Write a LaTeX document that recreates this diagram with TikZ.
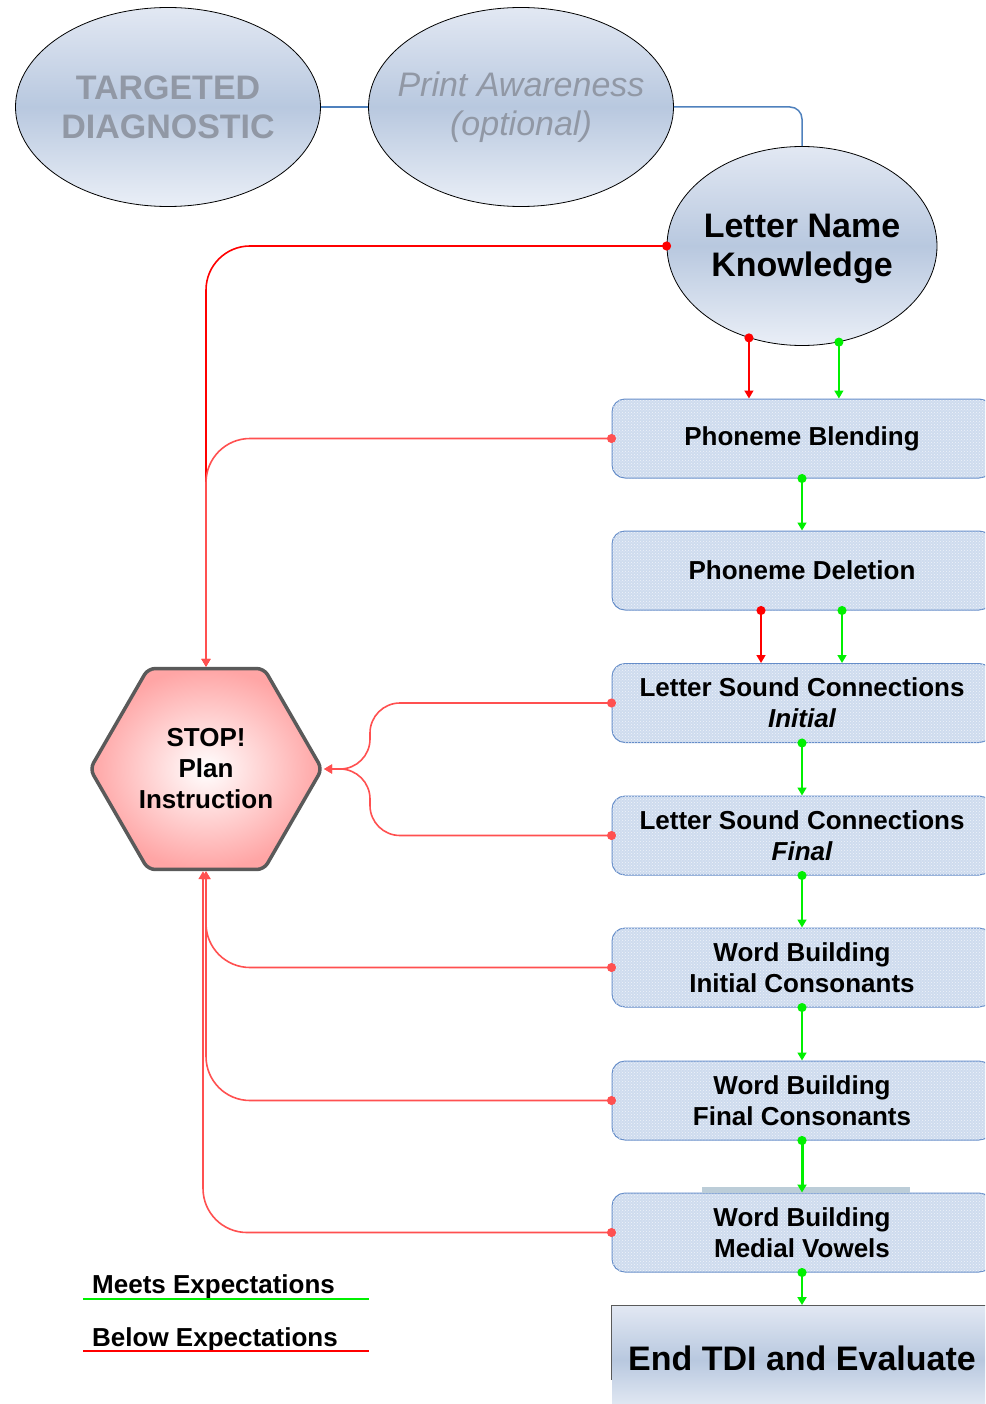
\documentclass[tikz,border=0pt]{standalone}
\usepackage{fontspec}
\setmainfont{Liberation Sans}
\usetikzlibrary{shapes.geometric,arrows.meta,patterns}
\definecolor{boxblue}{RGB}{206,219,238}
\definecolor{boxedge}{RGB}{100,140,200}
\definecolor{elltop}{RGB}{226,232,243}
\definecolor{ellmid}{RGB}{184,200,223}
\definecolor{ellbot}{RGB}{234,239,247}
\definecolor{fadetext}{RGB}{145,152,165}
\definecolor{linkblue}{RGB}{79,129,189}
\definecolor{gline}{RGB}{0,240,0}
\definecolor{rline}{RGB}{255,0,0}
\definecolor{rlight}{RGB}{255,80,80}
\definecolor{hexedge}{RGB}{90,90,90}
\definecolor{hexfill}{RGB}{255,165,165}
\definecolor{barcol}{RGB}{188,205,216}
\tikzset{
  x=1pt,y=-1pt,
  ell/.style={ellipse,draw=black,line width=0.8,minimum width=305,minimum height=199,
    top color=elltop,bottom color=ellbot,middle color=ellmid,inner sep=0},
  elltext/.style={align=center,inner sep=0,font=\fontsize{34}{39}\selectfont},
  stepbox/.style={rectangle,rounded corners=13,draw=boxedge,line width=1,fill=boxblue,
    postaction={pattern=crosshatch dots,pattern color=white!70!boxblue},
    minimum width=380,minimum height=79,align=center,inner sep=0,
    font=\fontsize{26}{31}\selectfont\bfseries},
  tipe/.tip={Triangle[length=8,width=9]},
  tipd/.tip={Circle[length=9]},
  gconn/.style={draw=gline,line width=1.6,{tipd}-{tipe},shorten <=-4.5},
  rconn/.style={draw=rline,line width=1.6,{tipd}-{tipe},shorten <=-4.5},
  rsoft/.style={draw=rlight,line width=1.6,{tipd}-{tipe},shorten <=-4.5},
}
\begin{document}
\begin{tikzpicture}
\useasboundingbox (0,0) rectangle (985,1404);
\clip (0,0) rectangle (985,1404);

% top ellipses
\node[ell] (td) at (168,107) {};
\node[elltext,text=fadetext,font=\fontsize{34}{39}\selectfont\bfseries] (tdt) at (td.center) {TARGETED\\DIAGNOSTIC};
\node[ell] (pa) at (521,107) {};
\node[elltext,text=fadetext,font=\fontsize{34}{39}\selectfont\itshape] (pat) at (pa.center) {Print Awareness\\(optional)};
\node[ell,minimum width=270,minimum height=199] (lnk) at (802,246) {};
\node[elltext,font=\fontsize{34}{39}\selectfont\bfseries] (lnkt) at ([yshift=-3]lnk.center) {Letter Name\\Knowledge};
\draw[linkblue,line width=1.5] (td.east) -- (pa.west);
\draw[linkblue,line width=1.5,rounded corners=12] (pa.east) -| (lnk.north);

% steps
\node[stepbox] (pb) at (802,438.5) {Phoneme Blending};
\node[stepbox] (pd) at (802,570.5) {Phoneme Deletion};
\node[stepbox] (lsci) at (802,703) {Letter Sound Connections\\\itshape Initial};
\node[stepbox] (lscf) at (802,835.5) {Letter Sound Connections\\\itshape Final};
\node[stepbox] (wbic) at (802,967.5) {Word Building\\Initial Consonants};
\node[stepbox] (wbfc) at (802,1100.5) {Word Building\\Final Consonants};
\node[stepbox] (wbmv) at (802,1232.5) {Word Building\\Medial Vowels};
\fill[barcol] (702,1187) rectangle (910,1193);

% end box
\node[rectangle,minimum width=380,minimum height=110,inner sep=0,anchor=north,
  top color=elltop,bottom color=ellbot,middle color=ellmid,
  font=\fontsize{34}{39}\selectfont\bfseries] (end) at (802,1305) {\raisebox{-10pt}[0pt][0pt]{End TDI and Evaluate}};
\draw[hexedge,line width=1] (end.north west) -- (end.north east);
\draw[hexedge,line width=1] (end.north west) -- ([yshift=-75]end.north west);

% stop hexagon
\node[regular polygon,regular polygon sides=6,minimum size=232,inner sep=0,
  draw=hexedge,line width=3.5,rounded corners=7,
  inner color=white,outer color=hexfill,shading=radial,
  align=center,font=\fontsize{26}{31}\selectfont\bfseries] (stop) at (206,769) {STOP!\\Plan\\Instruction};

% red connectors to stop
\draw[rconn,rounded corners=44] (lnk.west) -| (stop.north);
\draw[rsoft,rounded corners=44] (pb.west) -| (stop.north);
\coordinate (j) at (370,769);
\draw[rsoft,rounded corners=30] (lsci.west) -| (j) -- (stop.east);
\draw[rsoft,rounded corners=30] (lscf.west) -| (j) -- (stop.east);
\draw[rsoft,rounded corners=44] (wbic.west) -| (stop.south);
\draw[rsoft,rounded corners=44] (wbfc.west) -| (stop.south);
\draw[rsoft,rounded corners=44] (wbmv.west) -| ([xshift=-3]stop.south);

% vertical connectors
\draw[rconn] (lnk.240) -- (lnk.240 |- pb.north);
\draw[gconn] (lnk.291) -- (lnk.291 |- pb.north);
\draw[gconn] (pb.south) -- (pd.north);
\draw[rconn] ([xshift=-41]pd.south) -- ([xshift=-41]lsci.north);
\draw[gconn] ([xshift=40]pd.south) -- ([xshift=40]lsci.north);
\draw[gconn] (lsci.south) -- (lscf.north);
\draw[gconn] (lscf.south) -- (wbic.north);
\draw[gconn] (wbic.south) -- (wbfc.north);
\draw[gconn,line width=3] (wbfc.south) -- (wbmv.north);
\draw[gconn,line width=2.5] (wbmv.south) -- (end.north);

% legend
\node[anchor=base west,font=\fontsize{26}{31}\selectfont\bfseries,inner sep=0] (me) at (92,1293) {Meets Expectations};
\node[anchor=base west,font=\fontsize{26}{31}\selectfont\bfseries,inner sep=0] (be) at (92,1346) {Below Expectations};
\coordinate (mel) at (83,1299);
\coordinate (mer) at (369,1299);
\coordinate (bel) at (83,1351);
\coordinate (ber) at (369,1351);
\draw[gline,line width=2] (mel) -- (mer);
\draw[rline,line width=2] (bel) -- (ber);
\end{tikzpicture}
\end{document}
